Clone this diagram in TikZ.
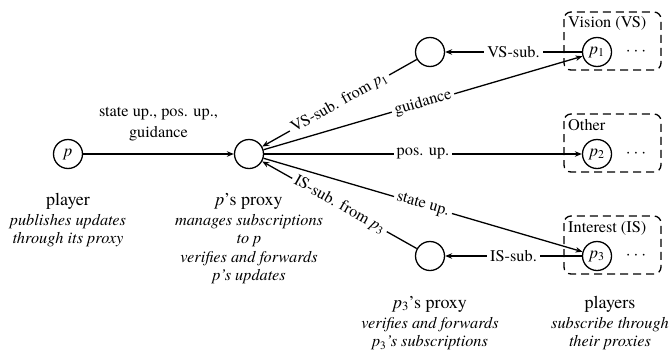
\documentclass[tikz,border=0pt]{standalone}
\usepackage{fontspec}
\setmainfont{texgyretermes}[Extension=.otf, UprightFont=*-regular, ItalicFont=*-italic, BoldFont=*-bold, BoldItalicFont=*-bolditalic]
\usetikzlibrary{arrows.meta,calc}
\newcommand\tfont{\fontsize{18}{21}\selectfont}
\newcommand\lfont{\fontsize{16.3}{19}\selectfont}
\newcommand\dfont{\fontsize{16.3}{18.5}\selectfont\itshape}
\begin{document}
\begin{tikzpicture}[x=1pt,y=-1pt,
  circ/.style={circle, draw, line width=1.3pt, minimum size=29pt, inner sep=0pt, font=\fontsize{17}{20}\selectfont},
  conn/.style={line width=1.3pt, -{Stealth[length=7pt,width=5.5pt]}},
  lbl/.style={font=\lfont, fill=white, inner sep=3pt},
  grp/.style={draw, dash pattern=on 8pt off 5pt, rounded corners=7pt, line width=1.3pt},
  ttl/.style={font=\tfont, anchor=base, inner sep=0pt},
  dsc/.style={font=\dfont, align=center, anchor=north, inner sep=0pt},
  glbl/.style={font=\lfont, anchor=base west, inner sep=0pt}]
\useasboundingbox (0,0) rectangle (671,351);

% groups
\draw[grp] (564,12) rectangle (661,70);
\draw[grp] (564,114) rectangle (661,172);
\draw[grp] (564,216) rectangle (661,274);
\node[glbl] (gv) at (568,27) {Vision (VS)};
\node[glbl] (go) at (568,130) {Other};
\node[glbl] (gi) at (568,232) {Interest (IS)};

% circles
\node[circ] (p) at (68,154) {\textit{p}};
\node[circ] (pp) at (249,154) {};
\node[circ] (tp) at (430,52) {};
\node[circ] (bp) at (430,256) {};
\node[circ] (p1) at (597,52) {\textit{p}\textsubscript{1}};
\node[circ] (p2) at (597,154) {\textit{p}\textsubscript{2}};
\node[circ] (p3) at (597,256) {\textit{p}\textsubscript{3}};
\node[font=\lfont] (d1) at (636,52) {$\cdots$};
\node[font=\lfont] (d2) at (636,154) {$\cdots$};
\node[font=\lfont] (d3) at (636,256) {$\cdots$};

% titles and descriptions
\node[ttl] (t0) at (68,205) {player};
\node[dsc] (e0) at (68,212) {\strut publishes updates\\through its proxy};
\node[ttl] (t1) at (249,205) {\textit{p}'s proxy};
\node[dsc] (e1) at (249,212) {\strut manages subscriptions\\to \textit{p}\\verifies and forwards\\\textit{p}'s updates};
\node[ttl] (t2) at (430,308) {\textit{p}\textsubscript{3}'s proxy};
\node[dsc] (e2) at (430,315) {\strut verifies and forwards\\\textit{p}\textsubscript{\upshape 3}'s subscriptions};
\node[ttl] (t3) at (610,308) {players};
\node[dsc] (e3) at (610,315) {\strut subscribe through\\their proxies};

% connectors
\draw[conn] (p) -- node[midway, above=12.5pt, inner sep=0pt, font=\fontsize{16.3}{21}\selectfont, align=center] (l0) {state up., pos. up.,\\guidance} (pp);
\draw[conn] (tp) -- node[lbl, sloped] (l1) {VS-sub. from \textit{p}\textsubscript{1}} (pp);
\draw[conn] (pp) -- node[lbl, sloped] (l2) {guidance} (p1);
\draw[conn] (pp) -- node[lbl] (l3) {pos. up.} (p2);
\draw[conn] (pp) -- node[lbl, sloped] (l4) {state up.} (p3);
\draw[conn] (bp) -- node[lbl, sloped] (l5) {IS-sub. from \textit{p}\textsubscript{3}} (pp);
\draw[conn] (p1) -- node[lbl] (l6) {VS-sub.} (tp);
\draw[conn] (p3) -- node[lbl] (l7) {IS-sub.} (bp);
\end{tikzpicture}
\end{document}
